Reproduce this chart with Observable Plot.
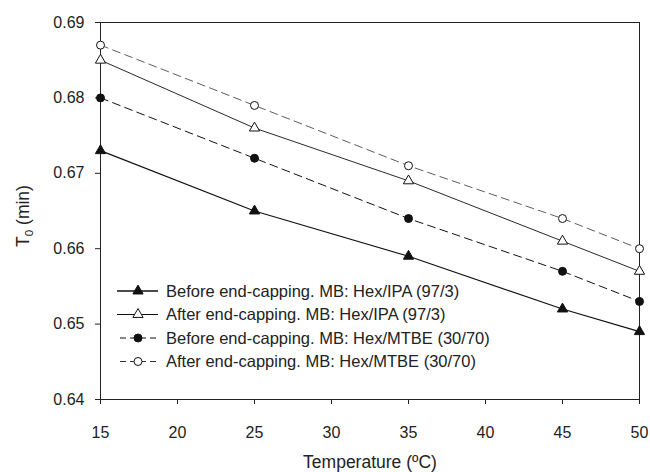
<!DOCTYPE html>
<html>
<head>
<meta charset="utf-8">
<script src="https://cdn.jsdelivr.net/npm/d3@7"></script>
<script src="https://cdn.jsdelivr.net/npm/@observablehq/plot@0.6"></script>
<style>
  html, body { margin: 0; padding: 0; background: #fff; }
  #chart { width: 650px; height: 472px; }
</style>
</head>
<body>
<div id="chart"></div>
<script>
// ---- data ----
const temperatures = [15, 25, 35, 45, 50];
const beforeIPA  = [0.673, 0.665, 0.659, 0.652, 0.649];
const afterIPA   = [0.685, 0.676, 0.669, 0.661, 0.657];
const beforeMTBE = [0.680, 0.672, 0.664, 0.657, 0.653];
const afterMTBE  = [0.687, 0.679, 0.671, 0.664, 0.660];
const seriesNames = [
  "Before end-capping. MB: Hex/IPA (97/3)",
  "After end-capping. MB: Hex/IPA (97/3)",
  "Before end-capping. MB: Hex/MTBE (30/70)",
  "After end-capping. MB: Hex/MTBE (30/70)"
];
const xTicks = [15, 20, 25, 30, 35, 40, 45, 50];
const yTicks = [0.64, 0.65, 0.66, 0.67, 0.68, 0.69];

// ---- styles (not data) ----
const styles = [
  {symbol: "triangle", fill: "#111", dash: null,  width: 1.2, stroke: "#111"},
  {symbol: "triangle", fill: "#fff", dash: null,  width: 0.9, stroke: "#111"},
  {symbol: "circle",   fill: "#111", dash: "8,5", width: 1.0, stroke: "#111"},
  {symbol: "circle",   fill: "#fff", dash: "8,5", width: 0.8, stroke: "#333"}
];
const valuesList = [beforeIPA, afterIPA, beforeMTBE, afterMTBE];
const symR = {triangle: 3.8, circle: 4.0};

const rows = [];
valuesList.forEach((vals, si) => {
  vals.forEach((v, i) => rows.push({series: si, name: seriesNames[si], t: temperatures[i], t0: v}));
});

const lineMarks = [];
const dotMarks = [];
styles.forEach((s, si) => {
  const d = rows.filter(r => r.series === si);
  lineMarks.push(Plot.line(d, {x: "t", y: "t0", stroke: s.stroke, strokeWidth: s.width, strokeDasharray: s.dash}));
  dotMarks.push(Plot.dot(d, {x: "t", y: "t0", symbol: s.symbol, r: symR[s.symbol],
    fill: s.fill, stroke: "#111", strokeWidth: 1}));
});

const chart = Plot.plot({
  width: 650,
  height: 472,
  marginLeft: 100,
  marginRight: 11,
  marginTop: 22,
  marginBottom: 73,
  style: {fontFamily: "'Liberation Sans', Arial, sans-serif", fontSize: "16px", color: "#222", background: "#fff", overflow: "visible"},
  x: {domain: [15, 50]},
  y: {domain: [0.64, 0.69]},
  marks: [
    Plot.frame({stroke: "#222", strokeWidth: 1}),
    Plot.axisX({ticks: xTicks, tickSize: 5, tickPadding: 22, label: null, fontSize: 16, stroke: "#222"}),
    Plot.axisY({ticks: yTicks, tickSize: 5, tickPadding: 11, tickFormat: d3.format(".2f"), label: null, fontSize: 16, stroke: "#222"}),
    ...lineMarks,
    ...dotMarks
  ]
});

document.getElementById("chart").appendChild(chart);

// ---- axis titles ----
const svg = d3.select(chart);
svg.append("text")
  .attr("x", 370).attr("y", 468)
  .attr("text-anchor", "middle")
  .attr("font-size", 17.5)
  .attr("fill", "#222")
  .text("Temperature (ºC)");

const yt = svg.append("text")
  .attr("transform", "translate(29,216) rotate(-90)")
  .attr("text-anchor", "middle")
  .attr("font-size", 17.5)
  .attr("fill", "#222");
yt.append("tspan").text("T");
yt.append("tspan").attr("font-size", 11.5).attr("dy", 4).text("0");
yt.append("tspan").attr("dy", -4).text(" (min)");

// ---- legend ----
const legendY = [291, 314.5, 338, 361.5];
const sx1 = 117, sx2 = 158, mx = 138, tx = 166;
styles.forEach((s, i) => {
  const g = svg.append("g");
  g.append("line")
    .attr("x1", sx1).attr("x2", sx2).attr("y1", legendY[i]).attr("y2", legendY[i])
    .attr("stroke", s.stroke).attr("stroke-width", s.width + 0.2)
    .attr("stroke-dasharray", s.dash ? "6,4" : null)
    .attr("stroke-dashoffset", s.dash ? -3 : null);
  const r = symR[s.symbol];
  const sym = s.symbol === "triangle" ? d3.symbolTriangle : d3.symbolCircle;
  g.append("path")
    .attr("transform", `translate(${mx},${legendY[i]})`)
    .attr("d", d3.symbol(sym, r * r * Math.PI)())
    .attr("fill", s.fill).attr("stroke", "#111").attr("stroke-width", 1);
  g.append("text")
    .attr("x", tx).attr("y", legendY[i]).attr("dy", "0.35em")
    .attr("text-anchor", "start")
    .attr("font-size", 16.5).attr("fill", "#222")
    .text(seriesNames[i]);
});
</script>
</body>
</html>
